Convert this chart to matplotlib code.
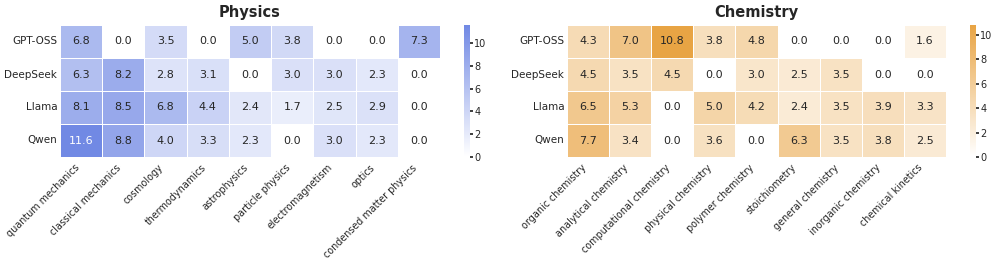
import numpy as np
import matplotlib
matplotlib.use("Agg")
import matplotlib.pyplot as plt
from matplotlib.colors import LinearSegmentedColormap
import seaborn as sns
from seaborn.utils import relative_luminance

models = ["GPT-OSS", "DeepSeek", "Llama", "Qwen"]

physics_topics = ["quantum mechanics", "classical mechanics", "cosmology", "thermodynamics",
                  "astrophysics", "particle physics", "electromagnetism", "optics",
                  "condensed matter physics"]
physics_vals = [
    [6.8, 0.0, 3.5, 0.0, 5.0, 3.8, 0.0, 0.0, 7.3],
    [6.3, 8.2, 2.8, 3.1, 0.0, 3.0, 3.0, 2.3, 0.0],
    [8.1, 8.5, 6.8, 4.4, 2.4, 1.7, 2.5, 2.9, 0.0],
    [11.6, 8.8, 4.0, 3.3, 2.3, 0.0, 3.0, 2.3, 0.0],
]

chem_topics = ["organic chemistry", "analytical chemistry", "computational chemistry",
               "physical chemistry", "polymer chemistry", "stoichiometry",
               "general chemistry", "inorganic chemistry", "chemical kinetics"]
chem_vals = [
    [4.3, 7.0, 10.8, 3.8, 4.8, 0.0, 0.0, 0.0, 1.6],
    [4.5, 3.5, 4.5, 0.0, 3.0, 2.5, 3.5, 0.0, 0.0],
    [6.5, 5.3, 0.0, 5.0, 4.2, 2.4, 3.5, 3.9, 3.3],
    [7.7, 3.4, 0.0, 3.6, 0.0, 6.3, 3.5, 3.8, 2.5],
]

sns.set_theme(style="white")
plt.rcParams['font.family'] = ['DejaVu Sans']

fig = plt.figure(figsize=(9.96, 2.59), dpi=100)
W, H = 996, 259

def px(l, t, r, b):
    return [l / W, 1 - b / H, (r - l) / W, (b - t) / H]

panels = [
    ("Physics", physics_topics, physics_vals, "#7189e4", (60, 25, 440, 157), (464, 25, 470, 157)),
    ("Chemistry", chem_topics, chem_vals, "#e8a444", (567, 25, 946, 157), (970, 25, 976, 157)),
]

for title, topics, vals, color, hbox, cbox in panels:
    ax = fig.add_axes(px(*hbox))
    cax = fig.add_axes(px(*cbox))
    cmap = LinearSegmentedColormap.from_list(title, ["#ffffff", color])
    arr = np.array(vals)
    vmax = arr.max()
    sns.heatmap(arr, ax=ax, cbar_ax=cax, cmap=cmap, annot=False,
                linewidths=0.5, linecolor="white", xticklabels=topics, yticklabels=models,
                vmin=0, vmax=vmax)
    for i in range(arr.shape[0]):
        for j in range(arr.shape[1]):
            v = arr[i, j]
            lum = relative_luminance(cmap(v / vmax))
            ax.text(j + 0.5, i + 0.5, f"{v:.1f}", ha="center", va="center", fontsize=8,
                    color="#262626" if lum > 0.3 else "white")
    ax.set_title(title, fontsize=10.5, fontweight="bold", pad=6)
    ax.set_xticklabels(topics, rotation=45, ha="right", fontsize=6.9)
    ax.set_yticklabels(models, rotation=0, fontsize=7.5)
    ax.tick_params(axis="x", length=0, pad=4)
    ax.tick_params(axis="y", length=0, pad=2)
    for lab in ax.get_xticklabels():
        lab.set_x(lab.get_position()[0])
    cax.tick_params(labelsize=7, length=2, pad=1)
    for s in cax.spines.values():
        s.set_visible(False)

fig.savefig("out.png", dpi=100)
